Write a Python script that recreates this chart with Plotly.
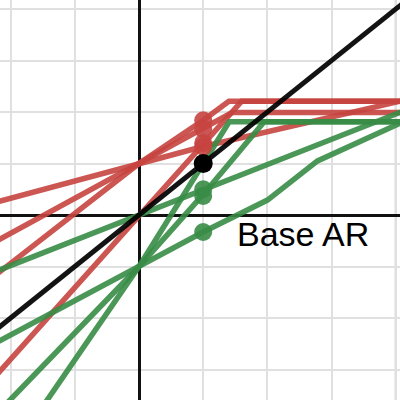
import plotly.graph_objects as go

# Axis ranges (data units; one minor grid step = 1)
x_range = [-2.165, 4.065]
y_range = [-3.592, 4.175]

# Black reference line y = x and base point
black_x = [-2.3, 4.2]
black_y = [-2.3, 4.2]
black_pt_x = [1]
black_pt_y = [1]

# Red curves
red_1_x = [-2.3, 0, 1, 4.1]
red_1_y = [0.225, 1, 1.33, 2.22]
red_2_x = [-2.3, 0, 1, 1.45, 4.1]
red_2_y = [-0.56, 1, 1.67, 1.99, 1.99]
red_3_x = [-2.3, 0, 1, 1.4, 4.1]
red_3_y = [-1.23, 1, 1.84, 2.21, 2.21]
red_4_x = [-2.3, 0, 1, 1.6, 4.1]
red_4_y = [-3.22, 0, 1.4, 2.21, 2.21]
red_pts_x = [1, 1, 1, 1]
red_pts_y = [1.84, 1.67, 1.4, 1.33]

# Green curves
green_1_x = [-2.3, 0, 1, 2.0, 2.78, 4.1]
green_1_y = [-2.53, -1, -0.33, 0.29, 1.05, 1.8]
green_2_x = [-2.1, 0, 1, 1.95, 4.1]
green_2_y = [-3.71, -1, 0.4, 1.81, 1.81]
green_3_x = [-1.5, 0, 1, 1.405, 4.1]
green_3_y = [-3.72, -1, 1.0, 1.81, 1.81]
green_4_x = [-2.3, 4.2]
green_4_y = [-1.13, 2.06]
green_pts_x = [1, 1, 1]
green_pts_y = [0.5, 0.37, -0.33]

label_text = "Base AR"
label_x = 2.56
label_y = -0.36

RED = "#c74440"
GREEN = "#388c46"
BLACK = "#000000"

fig = go.Figure()

def add_line(xs, ys, color, width=5.5, opacity=0.9):
    fig.add_trace(go.Scatter(x=xs, y=ys, mode="lines",
                             line=dict(color=color, width=width),
                             opacity=opacity, hoverinfo="skip"))

for xs, ys in [(red_1_x, red_1_y), (red_2_x, red_2_y), (red_3_x, red_3_y), (red_4_x, red_4_y)]:
    add_line(xs, ys, RED)
for xs, ys in [(green_1_x, green_1_y), (green_2_x, green_2_y), (green_3_x, green_3_y), (green_4_x, green_4_y)]:
    add_line(xs, ys, GREEN)
add_line(black_x, black_y, BLACK, width=5, opacity=0.92)

fig.add_trace(go.Scatter(x=red_pts_x, y=red_pts_y, mode="markers",
                         marker=dict(color=RED, size=18, opacity=0.9), hoverinfo="skip"))
fig.add_trace(go.Scatter(x=green_pts_x, y=green_pts_y, mode="markers",
                         marker=dict(color=GREEN, size=18, opacity=0.9), hoverinfo="skip"))
fig.add_trace(go.Scatter(x=black_pt_x, y=black_pt_y, mode="markers",
                         marker=dict(color=BLACK, size=19), hoverinfo="skip"))

fig.add_annotation(x=label_x, y=label_y, text=label_text, showarrow=False,
                   font=dict(family="Liberation Sans, Arial", size=34, color="#000000"))

# major grid lines (every 4 units)
for v in [4]:
    fig.add_shape(type="line", x0=v, x1=v, y0=0, y1=1, xref="x", yref="paper",
                  line=dict(color="#9a9a9a", width=2), layer="below")
    fig.add_shape(type="line", y0=v, y1=v, x0=0, x1=1, yref="y", xref="paper",
                  line=dict(color="#9a9a9a", width=2), layer="below")

fig.update_layout(
    width=400, height=400,
    margin=dict(l=0, r=0, t=0, b=0),
    paper_bgcolor="white", plot_bgcolor="white",
    showlegend=False,
)
fig.update_xaxes(range=x_range, dtick=1, tick0=0, showgrid=True, gridcolor="#e0e0e0", gridwidth=2,
                 zeroline=True, zerolinecolor="#111111", zerolinewidth=3,
                 showticklabels=False, ticks="", fixedrange=True)
fig.update_yaxes(range=y_range, dtick=1, tick0=0, showgrid=True, gridcolor="#e0e0e0", gridwidth=2,
                 zeroline=True, zerolinecolor="#111111", zerolinewidth=3,
                 showticklabels=False, ticks="", fixedrange=True)

fig.write_html("out.html", config={"displayModeBar": False},
               post_script="document.body.style.margin='0';document.body.style.overflow='hidden';")
